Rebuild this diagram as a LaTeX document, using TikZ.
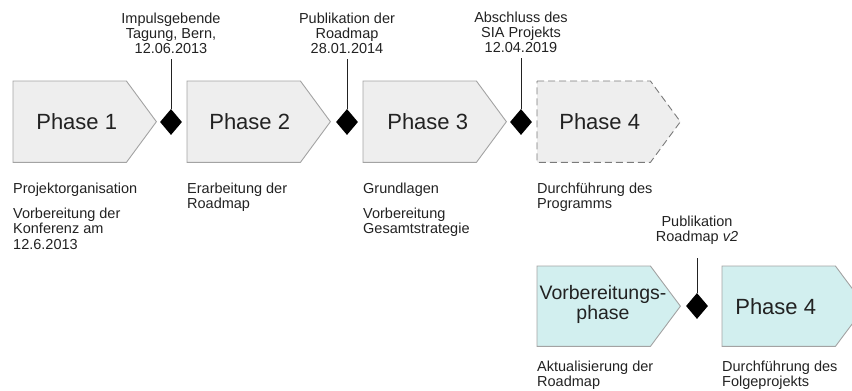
\documentclass[tikz,border=0pt]{standalone}
\usepackage{fontspec}
\setmainfont{Liberation Sans}
\usetikzlibrary{backgrounds,calc,shapes.geometric}

\definecolor{boxgray}{HTML}{EEEEEE}
\definecolor{boxcyan}{HTML}{D2EFEF}
\definecolor{edgegray}{HTML}{A3A3A3}
\definecolor{dashgray}{HTML}{7A7A7A}
\definecolor{inkdark}{HTML}{222222}

\tikzset{
  boxarea/.style={minimum width=113pt, minimum height=#1, inner sep=0pt, anchor=north west},
  boxarea/.default=81pt,
  graybox/.style={fill=boxgray, draw=edgegray, line width=0.9pt, line join=miter},
  dashbox/.style={fill=boxgray, draw=dashgray, line width=0.9pt, dash pattern=on 7pt off 4pt},
  cyanbox/.style={fill=boxcyan, draw=edgegray, line width=0.9pt, line join=miter},
  phasetext/.style={font=\fontsize{22}{24}\selectfont, text=inkdark, inner sep=0pt},
  note/.style={font=\fontsize{14.5}{15.2}\selectfont, text=inkdark, align=left, anchor=north west, inner sep=0pt},
  milestonetext/.style={font=\fontsize{14.5}{15}\selectfont, text=inkdark, align=center, anchor=north, inner sep=0pt},
  gem/.style={diamond, fill=black, draw=none, inner sep=0pt, minimum width=22pt, minimum height=26pt},
  pole/.style={draw=inkdark, line width=1pt}
}

% pentagon arrow behind a box area: straight body plus a 30pt tip
\newcommand\arrowbody[2]{%
  \begin{scope}[on background layer]
    \path[#2] (#1.north west) -- (#1.north east) -- ($(#1.east)+(30,0)$)
      -- (#1.south east) -- (#1.south west) -- cycle;
  \end{scope}}

\begin{document}
\begin{tikzpicture}[x=1pt,y=-1pt]
  \useasboundingbox (0,0) rectangle (852,391);

  % ---- main timeline ----
  \node[boxarea] (b1) at (13,81) {};
  \node[boxarea] (b2) at (187,81) {};
  \node[boxarea] (b3) at (363,81) {};
  \node[boxarea] (b4) at (537,81) {};
  \arrowbody{b1}{graybox}
  \arrowbody{b2}{graybox}
  \arrowbody{b3}{graybox}
  \arrowbody{b4}{dashbox}

  \node[phasetext] (t1) at ($(b1.center)+(7,0)$) {Phase 1};
  \node[phasetext] (t2) at ($(b2.center)+(6,0)$) {Phase 2};
  \node[phasetext] (t3) at ($(b3.center)+(8,0)$) {Phase 3};
  \node[phasetext] (t4) at ($(b4.center)+(6,0)$) {Phase 4};

  % milestones
  \node[gem] (m1) at (171,122) {};
  \node[gem] (m2) at (347,122) {};
  \node[gem] (m3) at (521,122) {};

  \node[milestonetext] (l1) at (171,13) {Impulsgebende\\Tagung, Bern,\\12.06.2013};
  \node[milestonetext] (l2) at (347,13) {Publikation der\\Roadmap\\28.01.2014};
  \node[milestonetext] (l3) at (521,12) {Abschluss des\\SIA Projekts\\12.04.2019};

  \draw[pole, shorten >=5pt] (m1.north) -- (l1.south);
  \draw[pole, shorten >=5pt] (m2.north) -- (l2.south);
  \draw[pole, shorten >=5pt] (m3.north) -- (l3.south);

  % descriptions
  \node[note] (n1a) at (13,183) {Projektorganisation};
  \node[note] (n1b) at (13,208) {Vorbereitung der\\Konferenz am\\12.6.2013};
  \node[note] (n2)  at (187,183) {Erarbeitung der\\Roadmap};
  \node[note] (n3a) at (363,183) {Grundlagen};
  \node[note] (n3b) at (363,208) {Vorbereitung\\Gesamtstrategie};
  \node[note] (n4)  at (537,183) {Durchführung des\\Programms};

  % ---- follow-up timeline ----
  \node[boxarea=80pt] (b5) at (537,266) {};
  \node[boxarea=80pt] (b6) at (722,266) {};
  \arrowbody{b5}{cyanbox}
  \arrowbody{b6}{cyanbox}

  \node[phasetext, font=\fontsize{19.5}{20.5}\selectfont, align=center, anchor=north]
    (t5) at (603,285) {Vorbereitungs-\\phase};
  \node[phasetext] (t6) at ($(b6.center)+(-3,0)$) {Phase 4};

  \node[gem] (m4) at (697,306) {};
  \node[milestonetext] (l4) at (697,216) {Publikation\\Roadmap \textit{v2}};
  \draw[pole, shorten >=13pt] (m4.north) -- (l4.south);

  \node[note] (n5) at (537,361) {Aktualisierung der\\Roadmap};
  \node[note] (n6) at (722,361) {Durchführung des\\Folgeprojekts};
\end{tikzpicture}
\end{document}
